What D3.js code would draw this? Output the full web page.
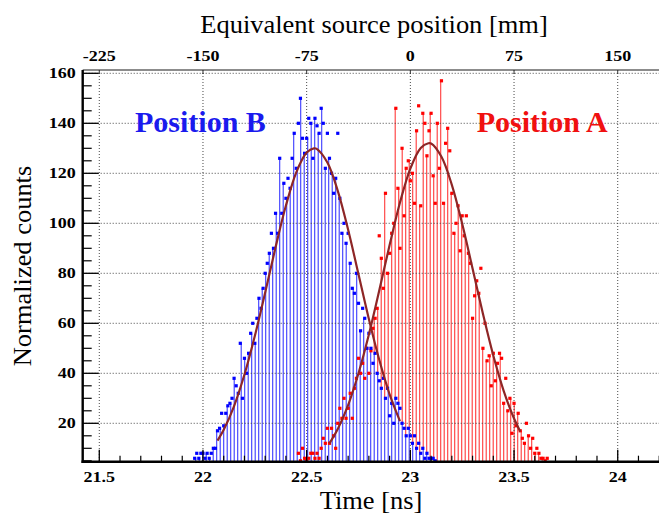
<!DOCTYPE html>
<html>
<head>
<meta charset="utf-8">
<script src="https://cdn.jsdelivr.net/npm/d3@7"></script>
<style>
  body { margin: 0; background: #fff; }
  text { font-family: "Liberation Serif", "Times New Roman", serif; }
</style>
</head>
<body>
<div id="chart"></div>
<script>
// histogram bins, 0.01 ns wide
var binWidth = 0.01;

// Position B (blue), first bin centre in ns
var blueStart = 21.96;
var blueCounts = [6,8,6,8,8,6,8,6,8,10,
  10,17,18,24,19,24,27,28,30,38,
  35,32,52,30,46,40,48,56,60,52,
  62,70,66,74,80,84,88,96,90,104,
  96,126,104,116,110,118,114,126,136,122,
  140,150,134,128,134,142,140,126,142,139,
  136,146,140,122,136,126,120,112,118,136,
  110,96,100,92,96,84,74,72,80,68,
  57,66,62,50,56,50,44,48,40,37,
  34,38,30,34,23,28,20,30,28,26,
  20,18,15,18,15,12,15,10,12,8,
  10,6,8,6,6,6,5];

// Position A (red)
var redStart = 22.46;
var redCounts = [8,5,10,6,5,6,8,8,6,8,
  6,10,14,12,18,12,18,15,10,20,
  26,22,30,22,26,32,22,34,38,46,
  40,44,38,50,40,49,58,62,66,95,
  86,74,112,80,88,96,100,146,114,90,
  130,103,122,125,117,120,108,137,147,107,
  144,140,127,137,144,119,108,140,122,157,
  108,132,138,129,112,96,100,107,89,103,
  95,103,88,84,62,71,77,72,82,50,
  60,45,47,35,48,37,44,48,46,28,
  38,25,30,16,28,19,24,17,14,12,
  20,15,10,14,8,10,8,6,6,5,
  6];

// gaussian fit curves
var blueFitT = [22.07,22.10,22.15,22.20,22.25,22.30,22.35,22.40,22.45,22.50,22.535,22.55,22.60,22.65,22.70,22.75,22.80,22.85,22.90,22.95];
var blueFitY = [13.1,17.4,26.9,39.5,54.9,72.3,90.4,107.1,120.4,128.3,130,129.7,124.3,113.0,97.4,79.6,61.7,45.4,31.6,20.9];
var redFitT = [22.61,22.65,22.70,22.75,22.80,22.85,22.90,22.95,23.00,23.05,23.087,23.10,23.15,23.20,23.25,23.30,23.35,23.40,23.45,23.50,23.53];
var redFitY = [12.0,17.7,27.3,40.0,55.5,73.1,91.3,108.3,121.9,130.1,132,131.9,126.6,115.4,99.8,81.9,63.8,47.1,33.0,21.9,16.7];

// axis ticks
var xTicks = [21.5, 22, 22.5, 23, 23.5, 24];
var xTickLabels = ["21.5", "22", "22.5", "23", "23.5", "24"];
var mmTicks = [-225, -150, -75, 0, 75, 150];
var yTicks = [20, 40, 60, 80, 100, 120, 140, 160];

// time <-> source position: 23 ns is 0 mm, 150 mm per ns
var zeroTime = 23, mmPerNs = 150;

var W = 659, H = 519;
var pL = 82.7, pR = 659.2, pT = 70, pB = 461.7;
var stretch = 1.2;      // tick labels are drawn a bit wide in the original
var titleStretch = 1.08;

var svg = d3.select("#chart").append("svg")
    .attr("width", W)
    .attr("height", H);

var x = d3.scaleLinear().domain([21.42, 24.2]).range([pL, pR]);
var y = d3.scaleLinear().domain([4.64, 161.32]).range([pB, pT]);
var mm = d3.scaleLinear()
    .domain(x.domain().map(function(t){ return (t - zeroTime) * mmPerNs; }))
    .range([pL, pR]);

svg.append("defs").append("clipPath").attr("id", "plotclip")
    .append("rect")
    .attr("x", pL).attr("y", pT)
    .attr("width", pR - pL).attr("height", pB - pT);

var plot = svg.append("g").attr("clip-path", "url(#plotclip)");

// value of a histogram at time t
function binValue(start, counts, t){
    var i = Math.round((t - start) / binWidth);
    if (i < 0 || i >= counts.length) return null;
    return counts[i];
}

// vertical hatching of the histograms (red only shows above blue)
var base = y.domain()[0];
var hatchX = d3.range(pL + 1, pR, 3.5);
hatchX.forEach(function(px){
    var t = x.invert(px);
    var b = binValue(blueStart, blueCounts, t);
    var r = binValue(redStart, redCounts, t);
    if (b !== null) {
        plot.append("line")
            .attr("x1", px).attr("x2", px)
            .attr("y1", y(base)).attr("y2", y(b))
            .attr("stroke", "#3a3aff")
            .attr("stroke-width", 1.1);
    }
    if (r !== null && (b === null || r > b)) {
        plot.append("line")
            .attr("x1", px).attr("x2", px)
            .attr("y1", y(b === null ? base : b)).attr("y2", y(r))
            .attr("stroke", "#ff3a3a")
            .attr("stroke-width", 1.1);
    }
});

// dotted grid
plot.selectAll(".vgrid").data(xTicks).enter().append("line")
    .attr("class", "vgrid")
    .attr("x1", function(d){ return x(d); }).attr("x2", function(d){ return x(d); })
    .attr("y1", pT).attr("y2", pB)
    .attr("stroke", "#333").attr("stroke-width", 0.9)
    .attr("stroke-dasharray", "1,2");

plot.selectAll(".hgrid").data(yTicks).enter().append("line")
    .attr("class", "hgrid")
    .attr("x1", pL).attr("x2", pR)
    .attr("y1", function(d){ return y(d); }).attr("y2", function(d){ return y(d); })
    .attr("stroke", "#333").attr("stroke-width", 0.9)
    .attr("stroke-dasharray", "1,2");

// markers
function markers(start, counts, color){
    plot.append("g").selectAll("rect").data(counts).enter().append("rect")
        .attr("x", function(d, i){ return x(start + i * binWidth) - 1.6; })
        .attr("y", function(d){ return y(d) - 1.6; })
        .attr("width", 3.2).attr("height", 3.2)
        .attr("fill", color);
}
markers(redStart, redCounts, "#ff0000");
markers(blueStart, blueCounts, "#0000ff");

// fit curves
var fitLine = d3.line()
    .x(function(d){ return x(d[0]); })
    .y(function(d){ return y(d[1]); })
    .curve(d3.curveCatmullRom);

[[blueFitT, blueFitY], [redFitT, redFitY]].forEach(function(f){
    plot.append("path")
        .datum(d3.zip(f[0], f[1]))
        .attr("d", fitLine)
        .attr("fill", "none")
        .attr("stroke", "#8e2626")
        .attr("stroke-width", 2.2);
});

// top frame line
svg.append("line")
    .attr("x1", pL).attr("x2", W).attr("y1", pT).attr("y2", pT)
    .attr("stroke", "#666").attr("stroke-width", 1.6);

// left axis ticks
var yMinor = d3.range(5, 161, 5).filter(function(v){ return v % 20 !== 0; });
svg.selectAll(".yminor").data(yMinor).enter().append("line")
    .attr("class", "yminor")
    .attr("x1", pL).attr("x2", pL + 9)
    .attr("y1", function(d){ return y(d); }).attr("y2", function(d){ return y(d); })
    .attr("stroke", "#000").attr("stroke-width", 1.2);
svg.selectAll(".ymajor").data(yTicks).enter().append("line")
    .attr("class", "ymajor")
    .attr("x1", pL).attr("x2", pL + 16)
    .attr("y1", function(d){ return y(d); }).attr("y2", function(d){ return y(d); })
    .attr("stroke", "#000").attr("stroke-width", 1.3);
svg.selectAll(".ylab").data(yTicks).enter().append("text")
    .attr("class", "ylab")
    .attr("transform", function(d){ return "translate(" + (pL - 7) + "," + (y(d) + 5) + ") scale(" + stretch + ",1)"; })
    .attr("text-anchor", "end")
    .attr("font-size", "15px").attr("font-weight", "bold")
    .text(function(d){ return d; });

// bottom axis ticks
var xMinor = d3.range(21.5, 24.25, 0.1).filter(function(v){
    return Math.abs(v * 2 - Math.round(v * 2)) > 0.01;
});
svg.selectAll(".xminor").data(xMinor).enter().append("line")
    .attr("class", "xminor")
    .attr("x1", function(d){ return x(d); }).attr("x2", function(d){ return x(d); })
    .attr("y1", pB).attr("y2", pB - 6)
    .attr("stroke", "#000").attr("stroke-width", 1.2);
svg.selectAll(".xmajor").data(xTicks).enter().append("line")
    .attr("class", "xmajor")
    .attr("x1", function(d){ return x(d); }).attr("x2", function(d){ return x(d); })
    .attr("y1", pB).attr("y2", pB - 12)
    .attr("stroke", "#000").attr("stroke-width", 1.3);
svg.selectAll(".xlab").data(xTicks).enter().append("text")
    .attr("class", "xlab")
    .attr("transform", function(d){ return "translate(" + x(d) + "," + (pB + 20) + ") scale(" + stretch + ",1)"; })
    .attr("text-anchor", "middle")
    .attr("font-size", "15px").attr("font-weight", "bold")
    .text(function(d, i){ return xTickLabels[i]; });

// top axis (equivalent position)
svg.selectAll(".mmtick").data(mmTicks).enter().append("line")
    .attr("class", "mmtick")
    .attr("x1", function(d){ return mm(d); }).attr("x2", function(d){ return mm(d); })
    .attr("y1", pT).attr("y2", pT + 4)
    .attr("stroke", "#333").attr("stroke-width", 1);
svg.selectAll(".mmlab").data(mmTicks).enter().append("text")
    .attr("class", "mmlab")
    .attr("transform", function(d){ return "translate(" + mm(d) + "," + (pT - 9.5) + ") scale(" + stretch + ",1)"; })
    .attr("text-anchor", "middle")
    .attr("font-size", "15px").attr("font-weight", "bold")
    .text(function(d){ return d; });

// axis lines
svg.append("line")
    .attr("x1", pL).attr("x2", pL).attr("y1", pT).attr("y2", pB + 1.2)
    .attr("stroke", "#000").attr("stroke-width", 2.4);
svg.append("line")
    .attr("x1", pL - 1.2).attr("x2", W).attr("y1", pB).attr("y2", pB)
    .attr("stroke", "#000").attr("stroke-width", 2.4);

// titles
svg.append("text")
    .attr("transform", "translate(374,33) scale(" + titleStretch + ",1)")
    .attr("text-anchor", "middle")
    .attr("font-size", "24.5px")
    .text("Equivalent source position [mm]");

svg.append("text")
    .attr("transform", "translate(371,509) scale(" + titleStretch + ",1)")
    .attr("text-anchor", "middle")
    .attr("font-size", "24.5px")
    .text("Time [ns]");

svg.append("text")
    .attr("transform", "translate(31,266) rotate(-90) scale(" + titleStretch + ",1)")
    .attr("text-anchor", "middle")
    .attr("font-size", "24.5px")
    .text("Normalized counts");

// labels of the two source positions
svg.append("text")
    .attr("x", 135).attr("y", 132)
    .attr("font-size", "30px").attr("font-weight", "bold")
    .attr("fill", "#1a1aee")
    .text("Position B");

svg.append("text")
    .attr("x", 476.7).attr("y", 132)
    .attr("font-size", "30px").attr("font-weight", "bold")
    .attr("fill", "#f01010")
    .text("Position A");
</script>
</body>
</html>
